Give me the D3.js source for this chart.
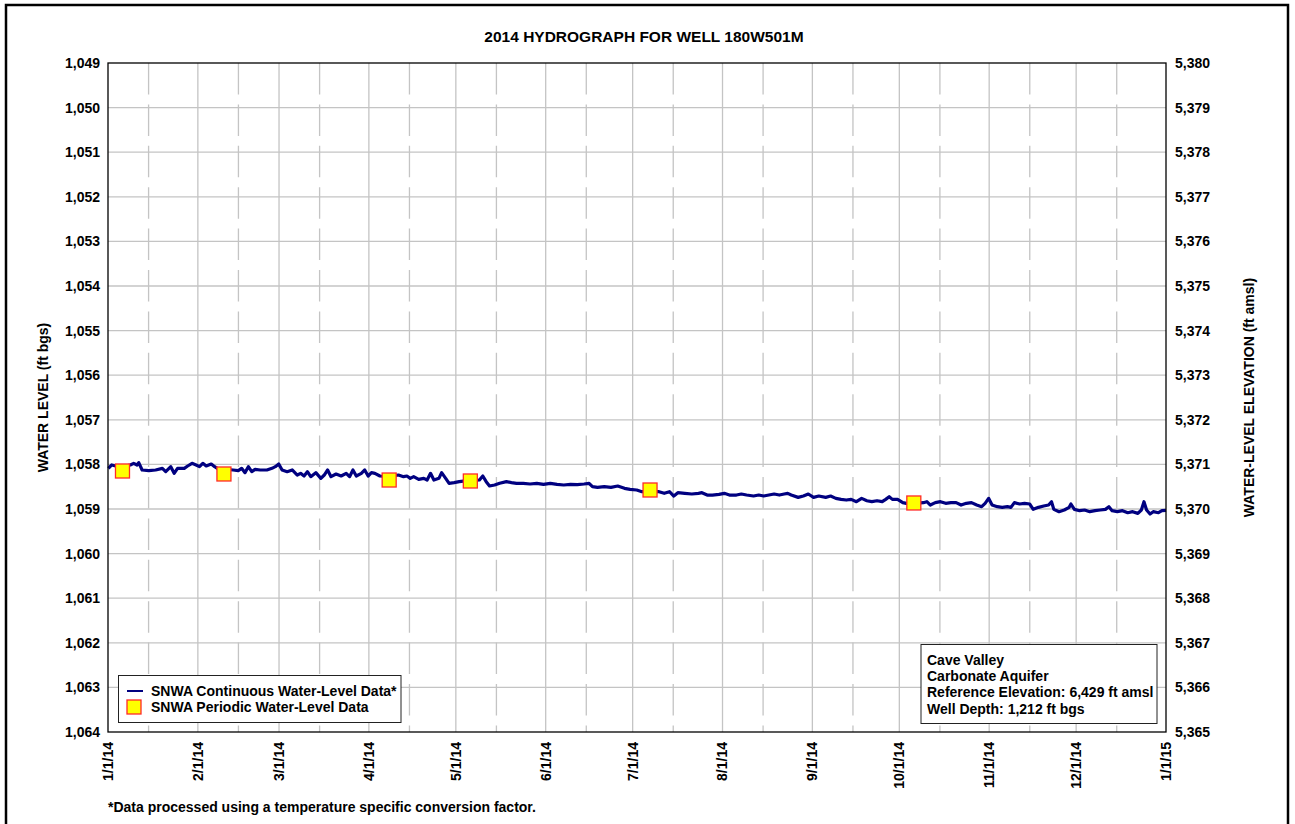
<!DOCTYPE html>
<html>
<head>
<meta charset="utf-8">
<script src="https://cdn.jsdelivr.net/npm/d3@7"></script>
<style>
html,body{margin:0;padding:0;background:#fff;}
svg{display:block;}
text{font-family:"Liberation Sans",Arial,sans-serif;font-weight:bold;fill:#000;}
</style>
</head>
<body>
<svg id="chart" width="1295" height="824"></svg>
<script>
// ---------- DATA ----------
const chartTitle = "2014 HYDROGRAPH FOR WELL 180W501M";
const leftAxisTitle = "WATER LEVEL (ft bgs)";
const rightAxisTitle = "WATER-LEVEL ELEVATION (ft amsl)";
const footnote = "*Data processed using a temperature specific conversion factor.";
const legendLabels = ["SNWA Continuous Water-Level Data*", "SNWA Periodic Water-Level Data"];
const infoLines = ["Cave Valley", "Carbonate Aquifer", "Reference Elevation: 6,429 ft amsl", "Well Depth: 1,212 ft bgs"];
const referenceElevation = 6429;
const depthDomain = [1049, 1064];
const depthTicks = [1049,1050,1051,1052,1053,1054,1055,1056,1057,1058,1059,1060,1061,1062,1063,1064];
const xTickDates = ["2014-01-01","2014-02-01","2014-03-01","2014-04-01","2014-05-01","2014-06-01","2014-07-01","2014-08-01","2014-09-01","2014-10-01","2014-11-01","2014-12-01","2015-01-01"];

// continuous record: days since 1/1/14 and depth to water (ft bgs)
const continuousDay = [0.13,1.29,4.0,7.69,8.86,10.02,10.6,11.77,14.09,16.42,18.75,19.91,21.66,22.82,23.99,26.31,27.48,28.99,30.39,31.55,32.71,33.88,35.62,36.79,37.72,40.5,43.19,44.93,46.1,47.26,48.42,49.59,50.75,52.5,54.82,56.57,57.73,58.9,60.06,61.81,63.55,65.3,66.46,67.63,68.79,69.95,71.7,73.44,74.61,75.77,76.94,78.68,80.43,82.17,83.34,84.5,85.66,87.41,88.57,89.74,90.9,92.07,93.81,96.5,100.21,101.96,103.12,104.28,105.45,107.19,108.94,110.1,111.27,112.43,114.17,115.1,116.5,117.67,119.41,121.16,124.0,128.14,129.3,130.47,131.63,133.38,135.12,137.45,139.19,140.94,143.27,145.6,147.92,150.25,152.58,154.91,157.23,159.56,161.89,164.22,165.96,167.13,168.87,171.2,173.52,175.85,178.18,180.1,182.4,184.2,187.0,190.1,191.9,193.7,195.2,196.6,199.0,201.4,203.7,204.9,206.7,208.5,210.8,212.6,214.4,216.8,218.5,220.3,222.7,224.5,226.2,228.0,229.8,231.6,233.3,234.5,235.7,238.1,239.9,241.6,243.4,245.2,247.6,249.3,251.1,252.9,254.7,256.4,258.2,260.0,261.8,263.5,265.3,267.1,268.3,269.5,270.6,272.4,274.2,275.4,278.0,281.3,282.5,283.7,285.4,287.2,289.0,290.8,292.6,294.3,296.1,297.9,299.7,301.4,302.6,303.8,305.0,306.8,308.5,310.3,311.5,312.7,314.5,316.2,318.0,319.2,321.0,322.8,324.5,325.5,326.3,328.1,329.9,331.6,332.2,333.4,335.2,336.9,338.7,340.5,342.3,344.1,345.3,346.4,348.2,350.0,351.8,353.5,355.3,356.5,357.4,358.3,359.5,360.6,362.4,363.6,365.0];
const continuousLevel = [1058.088,1058.013,1058.06,1058.013,1057.976,1058.013,1057.961,1058.125,1058.14,1058.125,1058.088,1058.163,1058.051,1058.2,1058.088,1058.088,1058.036,1057.976,1058.013,1058.051,1057.976,1058.036,1057.991,1058.051,1058.088,1058.11,1058.125,1058.14,1058.088,1058.185,1058.051,1058.163,1058.11,1058.125,1058.125,1058.088,1058.051,1057.991,1058.125,1058.163,1058.125,1058.238,1058.2,1058.26,1058.163,1058.275,1058.185,1058.312,1058.238,1058.125,1058.275,1058.215,1058.26,1058.2,1058.275,1058.125,1058.26,1058.2,1058.125,1058.26,1058.185,1058.2,1058.26,1058.275,1058.238,1058.275,1058.26,1058.312,1058.275,1058.335,1058.312,1058.35,1058.2,1058.35,1058.312,1058.185,1058.312,1058.424,1058.409,1058.387,1058.365,1058.35,1058.26,1058.387,1058.484,1058.462,1058.424,1058.387,1058.409,1058.424,1058.424,1058.439,1058.424,1058.447,1058.424,1058.447,1058.462,1058.447,1058.454,1058.439,1058.424,1058.499,1058.514,1058.499,1058.514,1058.484,1058.537,1058.559,1058.574,1058.612,1058.612,1058.612,1058.649,1058.612,1058.709,1058.634,1058.649,1058.664,1058.649,1058.634,1058.687,1058.687,1058.672,1058.649,1058.687,1058.687,1058.664,1058.687,1058.709,1058.687,1058.709,1058.687,1058.664,1058.687,1058.664,1058.649,1058.687,1058.739,1058.709,1058.664,1058.739,1058.709,1058.739,1058.709,1058.761,1058.784,1058.799,1058.784,1058.836,1058.761,1058.814,1058.836,1058.814,1058.836,1058.784,1058.724,1058.784,1058.784,1058.858,1058.873,1058.873,1058.858,1058.836,1058.911,1058.858,1058.836,1058.873,1058.858,1058.858,1058.911,1058.873,1058.858,1058.911,1058.948,1058.873,1058.761,1058.911,1058.948,1058.963,1058.948,1058.963,1058.858,1058.888,1058.873,1058.888,1059.008,1058.963,1058.933,1058.911,1058.836,1059.008,1059.06,1059.023,1058.963,1058.888,1059.008,1059.038,1059.023,1059.06,1059.038,1059.023,1059.008,1058.948,1059.038,1059.06,1059.038,1059.083,1059.06,1059.098,1059.023,1058.836,1059.023,1059.113,1059.06,1059.083,1059.038,1059.03];

// periodic (manual) measurements
const periodicDate = ["2014-01-06","2014-02-10","2014-04-08","2014-05-06","2014-07-07","2014-10-06"];
const periodicLevel = [1058.148,1058.215,1058.35,1058.372,1058.574,1058.865];

// ---------- CHART ----------
const svg = d3.select("#chart");
const M = {left:108, top:63, right:1166, bottom:732};
const parse = d3.utcParse("%Y-%m-%d");
const t0 = parse("2014-01-01"), t1 = parse("2015-01-01");
const x = d3.scaleUtc().domain([t0, t1]).range([M.left, M.right]);
const y = d3.scaleLinear().domain(depthDomain).range([M.top, M.bottom]);
const yR = d3.scaleLinear().domain(depthDomain.map(d => referenceElevation - d)).range([M.top, M.bottom]);
const fmt = d3.format(",");
const dayToDate = d => new Date(t0.getTime() + d * 86400000);

// outer frame
svg.append("rect").attr("x",6).attr("y",5).attr("width",1282).attr("height",840)
  .attr("fill","none").attr("stroke","#000").attr("stroke-width",2.5);

// title
svg.append("text").attr("x",644).attr("y",42).attr("text-anchor","middle")
  .style("font-size","15.5px").text(chartTitle);

const grid = svg.append("g");
grid.selectAll("line.h").data(depthTicks.slice(1,-1)).enter().append("line")
  .attr("x1",M.left).attr("x2",M.right).attr("y1",d=>y(d)).attr("y2",d=>y(d))
  .attr("stroke","#c4c4c4").attr("stroke-width",1.3);
const monthDates = xTickDates.map(parse);
grid.selectAll("line.m").data(monthDates.slice(1,-1)).enter().append("line")
  .attr("x1",d=>x(d)).attr("x2",d=>x(d)).attr("y1",M.top).attr("y2",M.bottom)
  .attr("stroke","#c4c4c4").attr("stroke-width",1.3);
const midDates = monthDates.slice(0,-1).map(d => d3.utcDay.offset(d,14));
grid.selectAll("line.mid").data(midDates).enter().append("line")
  .attr("x1",d=>x(d)).attr("x2",d=>x(d)).attr("y1",M.top).attr("y2",M.bottom)
  .attr("stroke","#c4c4c4").attr("stroke-width",1.3).attr("stroke-dasharray","31.5,9.9");

// continuous line
const series = continuousDay.map((d,i)=>({date:dayToDate(d), v:continuousLevel[i]}));
svg.append("path").datum(series)
  .attr("d", d3.line().x(d=>x(d.date)).y(d=>y(d.v)))
  .attr("fill","none").attr("stroke","#000080").attr("stroke-width",3.2).attr("stroke-linejoin","round");

// periodic squares
const pts = periodicDate.map((d,i)=>({date:parse(d), v:periodicLevel[i]}));
svg.selectAll("rect.p").data(pts).enter().append("rect")
  .attr("x",d=>x(d.date)-7).attr("y",d=>y(d.v)-7).attr("width",14).attr("height",14)
  .attr("fill","#ffff00").attr("stroke","#ff2a2a").attr("stroke-width",1.3);

// plot frame
svg.append("rect").attr("x",M.left).attr("y",M.top).attr("width",M.right-M.left).attr("height",M.bottom-M.top)
  .attr("fill","none").attr("stroke","#000").attr("stroke-width",1.3);

// left axis labels
const yAxisL = d3.axisLeft(y).tickValues(depthTicks).tickFormat(fmt).tickSize(0).tickPadding(8);
const gL = svg.append("g").attr("transform",`translate(${M.left},0)`).call(yAxisL);
gL.select(".domain").remove();
gL.selectAll("text").style("font-size","14px").style("font-family",'"Liberation Sans",Arial,sans-serif').style("font-weight","bold").attr("fill","#000");

// right axis labels
const rightTicks = depthTicks.map(d => referenceElevation - d);
const yAxisR = d3.axisRight(yR).tickValues(rightTicks).tickFormat(fmt).tickSize(0).tickPadding(9);
const gR = svg.append("g").attr("transform",`translate(${M.right},0)`).call(yAxisR);
gR.select(".domain").remove();
gR.selectAll("text").style("font-size","14px").style("font-family",'"Liberation Sans",Arial,sans-serif').style("font-weight","bold").attr("fill","#000");

// x axis labels (rotated)
const xFmt = d => `${d.getUTCMonth()+1}/${d.getUTCDate()}/${String(d.getUTCFullYear()).slice(2)}`;
svg.append("g").selectAll("text").data(monthDates).enter().append("text")
  .attr("transform",d=>`translate(${x(d)},${M.bottom+10}) rotate(-90)`)
  .attr("text-anchor","end").attr("dy","0.35em").style("font-size","14px").text(xFmt);

// axis titles
svg.append("text").attr("transform",`translate(48,${(M.top+M.bottom)/2}) rotate(-90)`)
  .attr("text-anchor","middle").style("font-size","14px").text(leftAxisTitle);
svg.append("text").attr("transform",`translate(1254,${(M.top+M.bottom)/2}) rotate(-90)`)
  .attr("text-anchor","middle").style("font-size","14px").text(rightAxisTitle);

// legend
const lg = svg.append("g");
lg.append("rect").attr("x",118.5).attr("y",675.5).attr("width",282.5).attr("height",47)
  .attr("fill","#fff").attr("stroke","#222").attr("stroke-width",1);
lg.append("line").attr("x1",127).attr("x2",143).attr("y1",691).attr("y2",691)
  .attr("stroke","#000080").attr("stroke-width",2);
lg.append("rect").attr("x",127).attr("y",700).attr("width",14).attr("height",14)
  .attr("fill","#ffff00").attr("stroke","#ff2a2a").attr("stroke-width",1.3);
lg.selectAll("text").data(legendLabels).enter().append("text")
  .attr("x",151).attr("y",(d,i)=>696+i*16).style("font-size","14px").text(d=>d);

// info box
const ib = svg.append("g");
ib.append("rect").attr("x",921).attr("y",644.5).attr("width",236).attr("height",79)
  .attr("fill","#fff").attr("stroke","#222").attr("stroke-width",1);
ib.selectAll("text").data(infoLines).enter().append("text")
  .attr("x",927).attr("y",(d,i)=>665+i*16.2).style("font-size","14px").text(d=>d);

// footnote
svg.append("text").attr("x",108).attr("y",812).style("font-size","14px").text(footnote);
</script>
</body>
</html>
